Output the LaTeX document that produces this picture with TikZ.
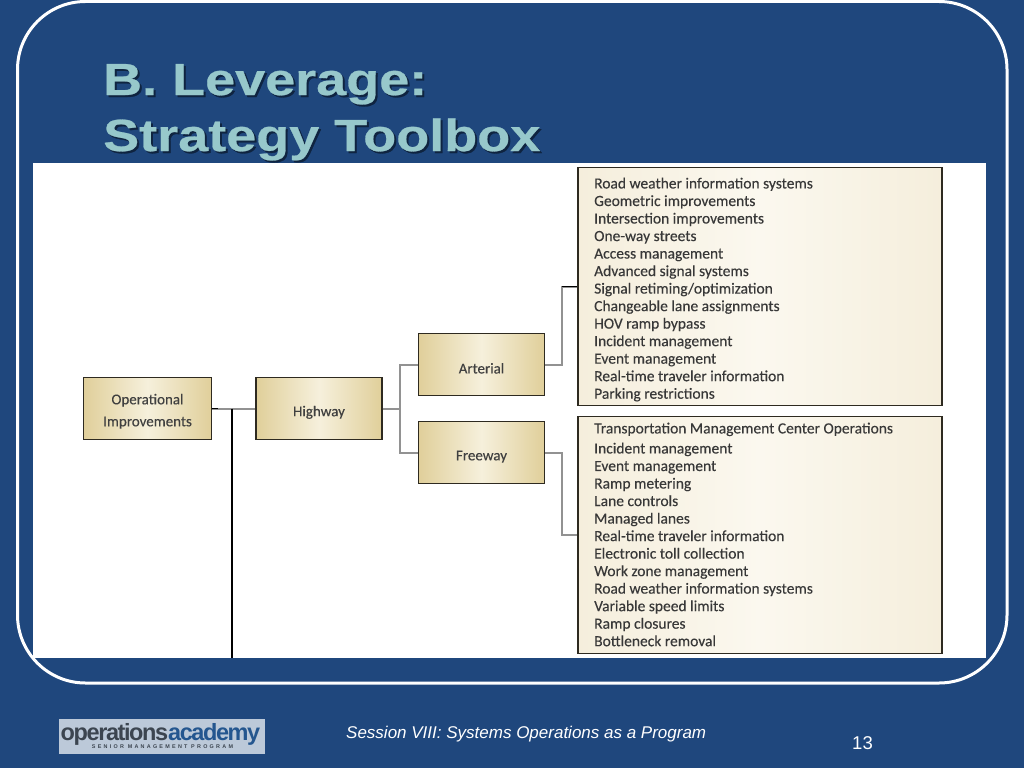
\documentclass[tikz,border=0pt]{standalone}
\usepackage{fontspec}
\setmainfont{Liberation Sans}
\newfontfamily\chartfont[FakeBold=0.25]{Carlito}
\newfontfamily\titlefont[FakeStretch=1.2,FakeBold=0.6]{Liberation Sans Bold}
\definecolor{slidebg}{HTML}{1F477D}
\definecolor{titleteal}{HTML}{97C8CB}
\definecolor{titleshadow}{HTML}{0F2440}
\definecolor{goldedge}{HTML}{E0CF9A}
\definecolor{goldmid}{HTML}{F6F0DC}
\definecolor{paleedge}{HTML}{F5EEDC}
\definecolor{palemid}{HTML}{FBF8EF}
\definecolor{linkgrey}{HTML}{929292}
\definecolor{boxline}{HTML}{2E2A20}
\definecolor{logobg}{HTML}{BCC9D9}
\definecolor{logodark}{HTML}{3C4550}
\definecolor{logoblue}{HTML}{24568F}
\newcommand{\dropstrut}{\rule{0pt}{18pt}}
\tikzset{
  x=1pt,y=-1pt,
  goldbox/.style={draw=boxline,line width=1.1pt,left color=goldedge,right color=goldedge,middle color=goldmid,minimum width=128pt,minimum height=62pt,inner sep=0pt,align=center,text=black!75,font=\chartfont\fontsize{15}{22}\selectfont},
  listbox/.style={draw=boxline,line width=1.1pt,left color=paleedge,right color=paleedge,middle color=palemid,minimum width=364pt,inner sep=0pt},
  listtext/.style={anchor=north west,inner sep=0pt,align=left,text=black!78,font=\chartfont\fontsize{15.5}{17.52}\selectfont},
  link/.style={draw=linkgrey,line width=2pt},
  blacklink/.style={draw=black,line width=1.5pt},
  titletext/.style={anchor=base west,inner sep=0pt,text=titleteal,font=\titlefont\fontsize{45}{45}\selectfont},
  titleshade/.style={anchor=base west,inner sep=0pt,text=titleshadow,font=\titlefont\fontsize{45}{45}\selectfont},
  foot/.style={inner sep=0pt,text=white,font=\itshape\fontsize{17}{20}\selectfont}
}
\begin{document}
\begin{tikzpicture}
\useasboundingbox (0,0) rectangle (1024,768);
\fill[slidebg] (0,0) rectangle (1024,768);
\draw[white,line width=3pt,rounded corners=68pt] (17.5,1.5) rectangle (1007,683);
\fill[white] (33,163) rectangle (986,658);
% title
\node[titleshade] at (105,97) {B. Leverage:};
\node[titleshade] at (105,153) {Strategy Toolbox};
\node[titletext] (t1) at (103,95) {B. Leverage:};
\node[titletext] (t2) at (103,151) {Strategy Toolbox};
% chart boxes
\node[goldbox] (op) at (147.5,408.5) {\rule{0pt}{16pt}Operational\\Improvements};
\node[goldbox,minimum width=126pt] (hw) at (319,408.5) {\dropstrut Highway};
\node[goldbox,minimum width=126pt] (ar) at (481.5,364.5) {\dropstrut Arterial};
\node[goldbox,minimum width=126pt] (fr) at (481.5,452.5) {\dropstrut Freeway};
\node[listbox,minimum height=238pt] (l1) at (760,286.5) {};
\node[listbox,minimum height=237pt] (l2) at (760,535) {};
\coordinate (j1) at (400,408.5);
\coordinate (j2) at (562,364.5);
\coordinate (j3) at (562,452.5);
\coordinate (dn) at (232,658);
\coordinate (tee) at (232,408.5);
% connectors
\draw[link] (op.east) -- (hw.west);
\draw[blacklink] (op.east) -- ++(6,0);
\draw[blacklink] (tee) -- (dn);
\draw[link] (hw.east) -- (j1);
\draw[link] (j1) |- (ar.west);
\draw[link] (j1) |- (fr.west);
\draw[link] (ar.east) -- (j2) |- (l1.west);
\draw[blacklink] (562,286.5) -- (l1.west);
\draw[link] (fr.east) -- (j3) |- (l2.west);
% list text
\node[listtext] (lt1) at (594,177.5) {Road weather information systems\\Geometric improvements\\Intersection improvements\\One-way streets\\Access management\\Advanced signal systems\\Signal retiming/optimization\\Changeable lane assignments\\HOV ramp bypass\\Incident management\\Event management\\Real-time traveler information\\Parking restrictions};
\node[listtext] (lt2) at (594,422.5) {Transportation Management Center Operations};
\node[listtext] (lt3) at (594,442.5) {Incident management\\Event management\\Ramp metering\\Lane controls\\Managed lanes\\Real-time traveler information\\Electronic toll collection\\Work zone management\\Road weather information systems\\Variable speed limits\\Ramp closures\\Bottleneck removal};
% logo
\fill[logobg] (59,719) rectangle (265,754);
\node[anchor=west,inner sep=0pt,font=\bfseries\fontsize{23.5}{24}\selectfont,text=logodark] (lg) at (60.5,734) {\addfontfeature{LetterSpace=-6}operations\textcolor{logoblue}{academy}};
\node[inner sep=0pt,font=\bfseries\fontsize{5.4}{6}\selectfont,text=logodark] (lg2) at (162.5,746.5) {\addfontfeature{LetterSpace=42}SENIOR MANAGEMENT PROGRAM};
% footer
\node[foot,anchor=west] (f1) at (346,734.5) {Session VIII: Systems Operations as a Program};
\node[foot,anchor=center,font=\fontsize{18.5}{20}\selectfont] (f2) at (862.5,743) {13};
\end{tikzpicture}
\end{document}
